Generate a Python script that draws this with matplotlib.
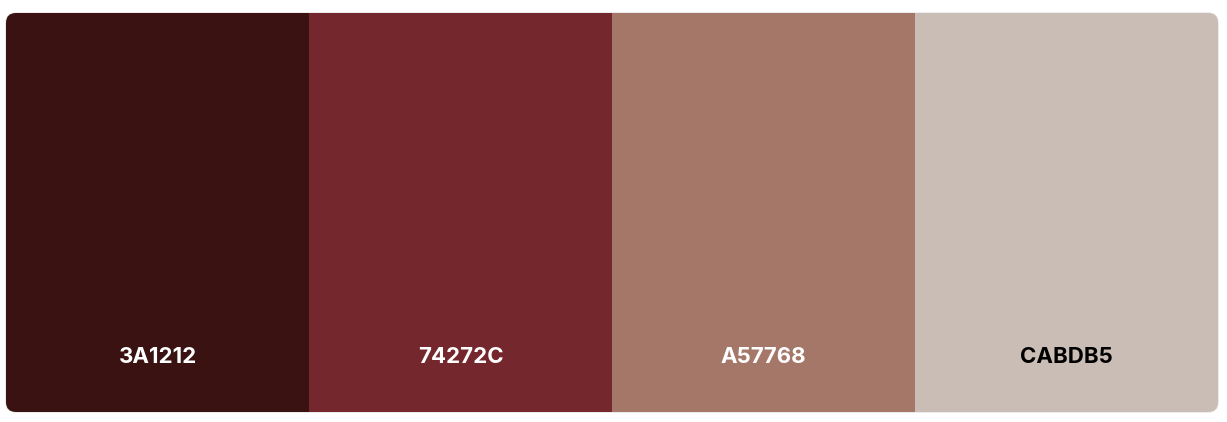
import matplotlib.pyplot as plt
from matplotlib.patches import FancyBboxPatch

codes = ["3A1212", "74272C", "A57768", "CABDB5"]
colors = ["#3A1212", "#74272C", "#A57768", "#CABDB5"]
text_colors = ["white", "white", "white", "black"]

W, H = 1227, 422
fig = plt.figure(figsize=(W / 100, H / 100), dpi=100)
ax = fig.add_axes([0, 0, 1, 1])
ax.set_xlim(0, W)
ax.set_ylim(H, 0)
ax.axis("off")

left, right, top, bottom = 6, 1218, 13, 412
w = (right - left) / len(codes)

clip = FancyBboxPatch((left, top), right - left, bottom - top,
                      boxstyle="round,pad=0,rounding_size=10",
                      facecolor="none", edgecolor="#dddddd", lw=0.8,
                      transform=ax.transData)
ax.add_patch(clip)

bars = ax.bar([left + i * w for i in range(len(codes))], bottom - top,
              width=w + 0.5, bottom=top, align="edge", color=colors)
for b in bars:
    b.set_clip_path(clip)

for i, (c, tc) in enumerate(zip(codes, text_colors)):
    ax.text(left + (i + 0.5) * w, 357, c, ha="center", va="center",
            color=tc, fontsize=16, fontweight="bold", family="Inter")

fig.savefig("out.png", dpi=100)
